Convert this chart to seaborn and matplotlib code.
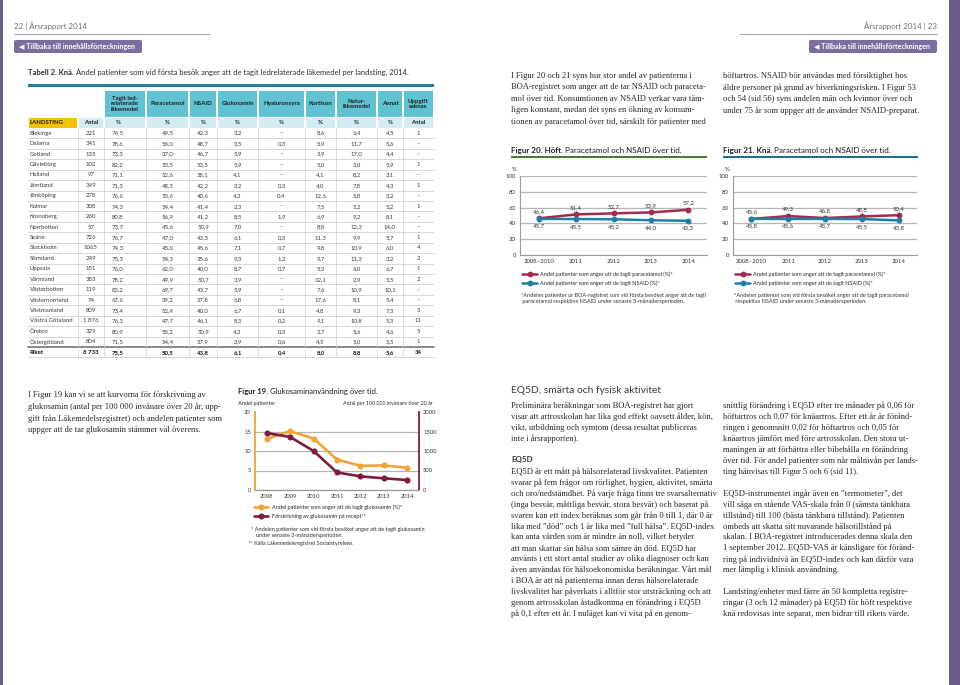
import matplotlib
matplotlib.use("Agg")
import matplotlib.pyplot as plt
from matplotlib.patches import Rectangle, FancyBboxPatch
import pandas as pd
import seaborn as sns

# ---------------- data ----------------
landsting = [
    "Blekinge", "Dalarna", "Gotland", "Gävleborg", "Halland", "Jämtland",
    "Jönköping", "Kalmar", "Kronoberg", "Norrbotten", "Skåne", "Stockholm",
    "Sörmland", "Uppsala", "Värmland", "Västerbotten", "Västernorrland",
    "Västmanland", "Västra Götaland", "Örebro", "Östergötland", "Riket",
]
antal = ["221", "341", "135", "102", "97", "349", "278", "308", "260", "57",
         "726", "1065", "249", "151", "383", "119", "74", "809", "1 876",
         "329", "804", "8 733"]
tagit = [74.5, 78.6, 73.3, 82.2, 71.1, 71.3, 76.6, 74.3, 80.8, 73.7, 76.7,
         74.3, 75.3, 76.0, 78.2, 83.2, 67.6, 73.4, 76.3, 80.9, 71.5, 75.5]
paracetamol = [49.5, 56.0, 37.0, 53.5, 52.6, 48.3, 53.6, 54.4, 56.9, 45.6, 47.0,
               45.0, 54.3, 62.0, 49.9, 69.7, 39.2, 52.9, 47.7, 55.2, 54.4, 50.5]
nsaid = [42.3, 48.7, 46.7, 53.5, 38.1, 42.2, 40.6, 41.4, 41.2, 50.9, 43.3,
         45.6, 35.6, 40.0, 50.7, 43.7, 37.8, 40.0, 46.1, 50.9, 37.9, 43.8]
glukosamin = [3.2, 3.5, 5.9, 5.9, 4.1, 3.2, 4.3, 2.3, 8.5, 7.0, 6.1,
              7.1, 9.3, 8.7, 3.9, 5.9, 6.8, 6.7, 8.3, 4.3, 3.9, 6.1]
hyaluronsyra = [None, 0.3, None, None, None, 0.3, 0.4, None, 1.9, None, 0.3,
                0.7, 1.2, 0.7, None, None, None, 0.1, 0.2, 0.3, 0.6, 0.4]
kortison = [8.6, 5.9, 5.9, 5.0, 4.1, 4.0, 12.6, 7.5, 6.9, 8.8, 11.3,
            9.8, 9.7, 5.3, 12.1, 7.6, 17.6, 4.8, 9.1, 3.7, 4.5, 8.0]
naturlakemedel = [6.4, 11.7, 17.0, 3.0, 8.2, 7.8, 5.8, 5.2, 9.2, 12.3, 9.9,
                  10.9, 11.3, 6.0, 2.9, 10.9, 8.1, 9.3, 10.8, 5.6, 5.0, 8.8]
annat = [4.5, 5.6, 4.4, 5.9, 3.1, 4.3, 3.2, 5.2, 8.1, 14.0, 5.7,
         6.0, 3.2, 6.7, 5.5, 10.1, 5.4, 7.3, 5.3, 4.6, 5.5, 5.6]
uppgift_saknas = [1, None, None, 1, None, 1, None, 1, None, None, 1,
                  4, 2, 1, 2, None, None, 3, 11, 5, 1, 34]

table_headers = ["", "", "Tagit led-\nrelaterade\nläkemedel", "Paracetamol", "NSAID",
                 "Glukosamin", "Hyaluronsyra", "Kortison", "Natur-\nläkemedel",
                 "Annat", "Uppgift\nsaknas"]
table_units = ["LANDSTING", "Antal", "%", "%", "%", "%", "%", "%", "%", "%", "Antal"]

perioder = ["2008–2010", "2011", "2012", "2013", "2014"]
hoft_paracetamol = [46.4, 51.4, 52.7, 53.9, 57.2]
hoft_nsaid = [45.7, 45.5, 45.2, 44.0, 43.3]
kna_paracetamol = [45.6, 49.3, 46.8, 48.8, 50.4]
kna_nsaid = [45.8, 45.6, 45.7, 45.5, 43.8]

glu_ar = ["2008", "2009", "2010", "2011", "2012", "2013", "2014"]
glu_andel = [13.1, 15.1, 13.2, 7.8, 6.2, 6.3, 5.7]
glu_recept = [1460, 1360, 1000, 450, 350, 300, 255]

LAB_PARA = "Andel patienter som anger att de tagit paracetamol (%)*"
LAB_NSAID = "Andel patienter som anger att de tagit NSAID (%)*"
LAB_GLU = "Andel patienter som anger att de tagit glukosamin (%)*"
LAB_REC = "Förskrivning av glukosamin på recept**"

# ---------------- colours ----------------
PURPLE = "#6a5a8c"
BUTTON = "#7c6d9f"
TEAL = "#60c2d3"
LIGHT = "#d3ecf2"
YELLOW = "#f3c300"
TABLE_DARK = "#21819c"
GREEN = "#4d7c2e"
BLUE_BAR = "#1f6e98"
PARA_C = "#a32a4f"
NSAID_C = "#1b80a4"
ORANGE = "#f2a23a"
MAROON = "#7d1c40"
TEXT = "#2e2e2e"
GRID = "#b5b5b5"

sns.set_theme(style="white")
plt.rcParams["font.family"] = ["Lato", "DejaVu Sans"]
SERIF = ["Liberation Serif", "DejaVu Serif"]

fig = plt.figure(figsize=(9.6, 6.85), dpi=100)
page = fig.add_axes([0, 0, 1, 1])
page.set_xlim(0, 960)
page.set_ylim(685, 0)
page.axis("off")


def txt(x, y, s, size=4.3, **kw):
    kw.setdefault("va", "center")
    kw.setdefault("color", TEXT)
    return page.text(x, y, s, fontsize=size, **kw)


def rich(x, y, parts, size, **kw):
    r = fig.canvas.get_renderer()
    for s, w in parts:
        t = txt(x, y, s, size, fontweight=w, **kw)
        x += t.get_window_extent(r).width


def paragraph(x, y, lines, step, size=6.1):
    for i, line in enumerate(lines):
        if line:
            txt(x, y + i * step, line, size, family=SERIF, color="#262626")


def chart_axes(left, top, right, bottom):
    ax = fig.add_axes([left / 960, 1 - bottom / 685, (right - left) / 960, (bottom - top) / 685])
    ax.set_facecolor("none")
    return ax


def sv(v, dec=1):
    return "–" if v is None else f"{v:.{dec}f}".replace(".", ",")


# ---------------- page furniture ----------------
page.add_patch(Rectangle((0, 0), 2.5, 685, color=PURPLE, lw=0))
page.add_patch(Rectangle((949, 0), 11, 685, color=PURPLE, lw=0))
txt(14, 26, "22 | Årsrapport 2014", 5.7, color="#6d6d6d")
txt(937, 26, "Årsrapport 2014 | 23", 5.7, color="#6d6d6d", ha="right")
page.plot([14, 210], [34, 34], color="#aaa4ba", lw=0.8)
page.plot([740, 937], [34, 34], color="#aaa4ba", lw=0.8)
for bx in (14, 809):
    page.add_patch(FancyBboxPatch((bx, 40), 128, 13, boxstyle="round,pad=0,rounding_size=2",
                                  color=BUTTON, lw=0))
    txt(bx + 5, 46.8, "◀ Tillbaka till innehållsförteckningen", 5.1, color="white",
        fontweight="bold")

# ---------------- table ----------------
rich(28, 72.5, [("Tabell 2. Knä.", "bold"),
                (" Andel patienter som vid första besök anger att de tagit ledrelaterade "
                 "läkemedel per landsting, 2014.", "normal")], 5.5)
edges = [28, 78, 104, 146, 189, 217, 258, 305, 336, 377, 403, 434]
centers = [30, 91, 118, 167.5, 203, 237.5, 281.5, 320.5, 356.5, 390, 418.5]
page.add_patch(Rectangle((28, 83.5), 406, 3.3, color=TABLE_DARK, lw=0))
for j in range(2, 11):
    page.add_patch(Rectangle((edges[j] + 0.6, 91), edges[j + 1] - edges[j] - 1.2, 25.5,
                             color=TEAL, lw=0))
    txt((edges[j] + edges[j + 1]) / 2, 103.8, table_headers[j], 4.4, ha="center",
        linespacing=1.05, fontweight="bold", color="#1e1e1e")
for j in range(11):
    page.add_patch(Rectangle((edges[j] + 0.6, 117.5), edges[j + 1] - edges[j] - 1.2, 10,
                             color=YELLOW if j == 0 else LIGHT, lw=0))
    txt(centers[j] if j else 30, 122.6, table_units[j], 4.3, ha="left" if j == 0 else "center",
        fontweight="bold", color="#1e1e1e")

row_h = 10.43
columns = [tagit, paracetamol, nsaid, glukosamin, hyaluronsyra, kortison,
           naturlakemedel, annat]
for i, name in enumerate(landsting):
    yc = 128 + (i + 0.5) * row_h
    bold = "bold" if name == "Riket" else "normal"
    col = "#111111" if bold == "bold" else "#3a3a3a"
    txt(30, yc, name, 4.3, fontweight=bold, color=col)
    txt(centers[1], yc, antal[i], 4.3, ha="center", fontweight=bold, color=col)
    for k, values in enumerate(columns):
        txt(centers[k + 2], yc, sv(values[i]), 4.3, ha="center", fontweight=bold, color=col)
    us = uppgift_saknas[i]
    txt(centers[10], yc, "–" if us is None else str(us), 4.3, ha="center",
        fontweight=bold, color=col)
    yb = 128 + (i + 1) * row_h
    if name != "Östergötland":
        page.plot([28, 434], [yb, yb], color="#c6c6c6", lw=0.5)
page.plot([28, 434], [128 + 21 * row_h, 128 + 21 * row_h], color="#808080", lw=1.3)
for e in edges[1:-1]:
    page.plot([e, e], [128, 128 + 22 * row_h], color="#cfcfcf", lw=0.5)

# ---------------- text blocks ----------------
paragraph(511, 76, [
    "I Figur 20 och 21 syns hur stor andel av patienterna i",
    "BOA-registret som anger att de tar NSAID och paraceta-",
    "mol över tid. Konsumtionen av NSAID verkar vara täm-",
    "ligen konstant, medan det syns en ökning av konsum-",
    "tionen av paracetamol över tid, särskilt för patienter med",
], 11.4)
paragraph(723, 76, [
    "höftartros. NSAID bör användas med försiktighet hos",
    "äldre personer på grund av biverkningsrisken. I Figur 53",
    "och 54 (sid 56) syns andelen män och kvinnor över och",
    "under 75 år som uppger att de använder NSAID-preparat.",
], 11.4)
paragraph(28, 395, [
    "I Figur 19 kan vi se att kurvorna för förskrivning av",
    "glukosamin (antal per 100 000 invånare över 20 år, upp-",
    "gift från Läkemedelsregistret) och andelen patienter som",
    "uppger att de tar glukosamin stämmer väl överens.",
], 11.6)

txt(511, 390, "EQ5D, smärta och fysisk aktivitet", 7.4, color="#3a3a3a")
paragraph(511, 406, [
    "Preliminära beräkningar som BOA-registret har gjort",
    "visar att artrosskolan har lika god effekt oavsett ålder, kön,",
    "vikt, utbildning och symtom (dessa resultat publiceras",
    "inte i årsrapporten).",
], 10.95)
txt(511, 459.5, "EQ5D", 5.8, fontweight="bold", color="#333333")
paragraph(511, 471.5, [
    "EQ5D är ett mått på hälsorelaterad livskvalitet. Patienten",
    "svarar på fem frågor om rörlighet, hygien, aktivitet, smärta",
    "och oro/nedstämdhet. På varje fråga finns tre svarsalternativ",
    "(inga besvär, måttliga besvär, stora besvär) och baserat på",
    "svaren kan ett index beräknas som går från 0 till 1, där 0 är",
    "lika med ”död” och 1 är lika med ”full hälsa”. EQ5D-index",
    "kan anta värden som är mindre än noll, vilket betyder",
    "att man skattar sin hälsa som sämre än död. EQ5D har",
    "använts i ett stort antal studier av olika diagnoser och kan",
    "även användas för hälsoekonomiska beräkningar. Vårt mål",
    "i BOA är att nå patienterna innan deras hälsorelaterade",
    "livskvalitet har påverkats i alltför stor utsträckning och att",
    "genom artrosskolan åstadkomma en förändring i EQ5D",
    "på 0,1 efter ett år. I nuläget kan vi visa på en genom-",
], 10.95)
paragraph(723, 406, [
    "snittlig förändring i EQ5D efter tre månader på 0,06 för",
    "höftartros och 0,07 för knäartros. Efter ett år är föränd-",
    "ringen i genomsnitt 0,02 för höftartros och 0,05 för",
    "knäartros jämfört med före artrosskolan. Den stora ut-",
    "maningen är att förbättra eller bibehålla en förändring",
    "över tid. För andel patienter som når målnivån per lands-",
    "ting hänvisas till Figur 5 och 6 (sid 11).",
    "",
    "EQ5D-instrumentet ingår även en ”termometer”, det",
    "vill säga en stående VAS-skala från 0 (sämsta tänkbara",
    "tillstånd) till 100 (bästa tänkbara tillstånd). Patienten",
    "ombeds att skatta sitt nuvarande hälsotillstånd på",
    "skalan. I BOA-registret introducerades denna skala den",
    "1 september 2012. EQ5D-VAS är känsligare för föränd-",
    "ring på individnivå än EQ5D-index och kan därför vara",
    "mer lämplig i klinisk användning.",
    "",
    "Landsting/enheter med färre än 50 kompletta registre-",
    "ringar (3 och 12 månader) på EQ5D för höft respektive",
    "knä redovisas inte separat, men bidrar till rikets värde.",
], 10.95)


# ---------------- figures 20 and 21 ----------------
def trend_chart(box, para, nsaid, title, bar_color, bar_x, note):
    left, top, right, bottom = box
    rich(bar_x[0], 150, title, 5.8, color="#1e1e1e")
    page.add_patch(Rectangle((bar_x[0], 155.6), bar_x[1] - bar_x[0], 2.8, color=bar_color, lw=0))
    ax = chart_axes(left, top, right, bottom)
    df = pd.DataFrame({
        "period": perioder * 2,
        "andel": para + nsaid,
        "serie": [LAB_PARA] * len(para) + [LAB_NSAID] * len(nsaid),
    })
    sns.lineplot(data=df, x="period", y="andel", hue="serie", palette=[PARA_C, NSAID_C],
                 marker="o", markersize=4.2, markeredgewidth=0, linewidth=1.8,
                 sort=False, legend=False, ax=ax)
    for i, v in enumerate(para):
        ax.annotate(sv(v), (i, v), xytext=(0, 3.2), textcoords="offset points",
                    ha="center", va="bottom", fontsize=4.3, color="#333333")
    for i, v in enumerate(nsaid):
        ax.annotate(sv(v), (i, v), xytext=(0, -3.4), textcoords="offset points",
                    ha="center", va="top", fontsize=4.3, color="#333333")
    ax.set_ylim(0, 100)
    ax.set_xlim(-0.5, len(perioder) - 0.5)
    ax.set_yticks(range(0, 101, 20))
    ax.set_xticks(range(len(perioder)), perioder)
    ax.set_xticks([k - 0.5 for k in range(len(perioder) + 1)], minor=True)
    ax.yaxis.grid(True, color=GRID, lw=0.9)
    ax.set_axisbelow(True)
    for s in ("top", "right"):
        ax.spines[s].set_visible(False)
    for s in ("left", "bottom"):
        ax.spines[s].set_color("#9a9a9a")
        ax.spines[s].set_linewidth(0.8)
    ax.tick_params(axis="both", which="major", length=0, labelsize=4.3, pad=3,
                   labelcolor="#333333")
    ax.tick_params(axis="x", which="minor", length=2.5, width=0.6, color="#9a9a9a",
                   direction="inout")
    ax.set_xlabel("")
    ax.set_ylabel("")
    txt(left - 6, 169.5, "%", 4.3, ha="center")
    ax.legend(handles=ax.lines[:2], labels=[LAB_PARA, LAB_NSAID], loc="upper left",
              bbox_to_anchor=(left + 2, 271.5), bbox_transform=page.transData,
              frameon=False, fontsize=4.0, handlelength=2.7, handletextpad=0.5,
              labelspacing=0.55, borderpad=0, borderaxespad=0)
    for k, line in enumerate(note):
        txt(left + 1, 295.5 + k * 6.3, line, 3.95, color="#333333")


trend_chart((520, 176, 707, 255), hoft_paracetamol, hoft_nsaid,
            [("Figur 20. Höft.", "bold"), (" Paracetamol och NSAID över tid.", "normal")],
            GREEN, (511, 707),
            ["*Andelen patienter ur BOA-registret som vid första besöket anger att de tagit",
             " paracetamol respektive NSAID under senaste 3-månadersperioden."])
trend_chart((733, 176, 917, 255), kna_paracetamol, kna_nsaid,
            [("Figur 21. Knä.", "bold"), (" Paracetamol och NSAID över tid.", "normal")],
            BLUE_BAR, (723, 918),
            ["*Andelen patienter som vid första besöket anger att de tagit paracetamol",
             " respektive NSAID under senaste 3-månadersperioden."])

# ---------------- figure 19 ----------------
rich(238, 391, [("Figur 19.", "bold"), (" Glukosaminanvändning över tid.", "normal")], 5.5,
     color="#1e1e1e")
txt(238, 403, "Andel patienter", 4.0)
txt(433, 403, "Antal per 100 000 invånare över 20 år", 3.9, ha="right")
ax19 = chart_axes(255, 412, 419, 490)
glu_df = pd.DataFrame({"ar": glu_ar, "andel": glu_andel, "recept": glu_recept})
sns.lineplot(data=glu_df, x="ar", y="andel", color=ORANGE, marker="o", markersize=4.4,
             markeredgewidth=0, linewidth=1.9, sort=False, ax=ax19, label=LAB_GLU,
             legend=False)
ax19r = ax19.twinx()
ax19r.set_facecolor("none")
sns.lineplot(data=glu_df, x="ar", y="recept", color=MAROON, marker="o", markersize=4.4,
             markeredgewidth=0, linewidth=1.9, sort=False, ax=ax19r, label=LAB_REC,
             legend=False)
ax19.set_ylim(0, 20)
ax19r.set_ylim(0, 2000)
ax19.set_xlim(-0.5, len(glu_ar) - 0.5)
ax19.set_yticks(range(0, 21, 5))
ax19r.set_yticks(range(0, 2001, 500))
ax19.yaxis.grid(True, color=GRID, lw=0.9)
ax19.get_ygridlines()[-1].set_visible(False)
ax19.set_axisbelow(True)
ax19r.grid(False)
for a in (ax19, ax19r):
    a.spines["top"].set_visible(False)
    a.spines["bottom"].set_color("#9a9a9a")
    a.spines["bottom"].set_linewidth(0.8)
    a.set_xlabel("")
    a.set_ylabel("")
    a.tick_params(axis="both", length=0, labelsize=4.2, pad=3, labelcolor="#333333")
ax19.spines["right"].set_visible(False)
ax19.spines["left"].set_color(ORANGE)
ax19.spines["left"].set_linewidth(1.3)
ax19r.spines["left"].set_visible(False)
ax19r.spines["right"].set_color(MAROON)
ax19r.spines["right"].set_linewidth(1.3)
ax19.legend(handles=ax19.lines[:1] + ax19r.lines[:1], labels=[LAB_GLU, LAB_REC],
            loc="upper left", bbox_to_anchor=(254, 504.5), bbox_transform=page.transData,
            frameon=False, fontsize=4.0, handlelength=2.6, handletextpad=0.6,
            labelspacing=0.75, borderpad=0, borderaxespad=0)
txt(251, 529, "* Andelen patienter som vid första besöket anger att de tagit glukosamin", 3.95)
txt(256, 535.5, "under senaste 3-månadersperioden.", 3.95)
txt(248, 543.5, "** Källa Läkemedelsregistret Socialstyrelsen.", 3.95)

fig.savefig("out.png", dpi=100)
